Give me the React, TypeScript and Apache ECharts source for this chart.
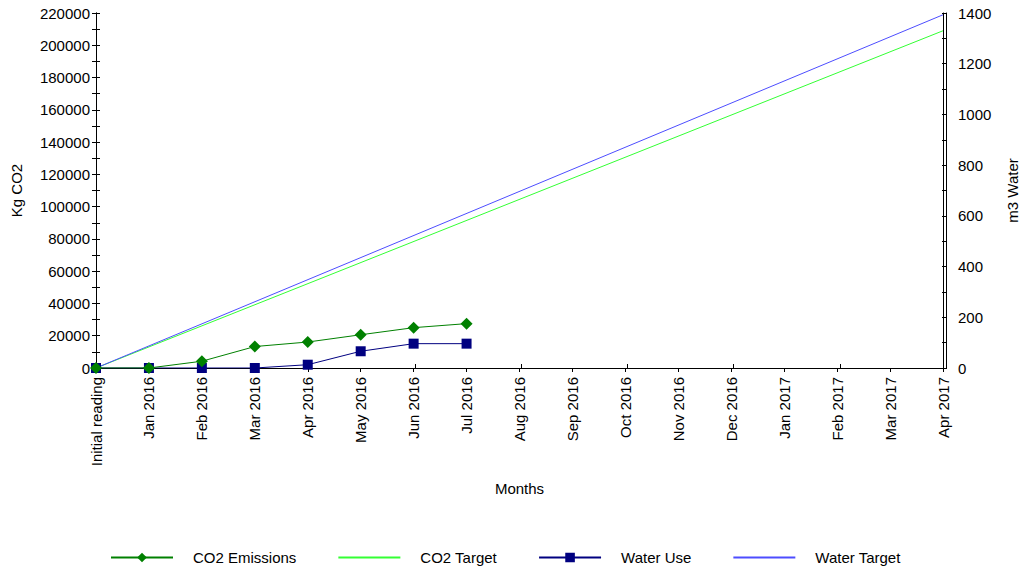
import React, { useEffect, useRef } from "react";
import * as echarts from "echarts";

const categories = [
  "Initial reading", "Jan 2016", "Feb 2016", "Mar 2016", "Apr 2016", "May 2016",
  "Jun 2016", "Jul 2016", "Aug 2016", "Sep 2016", "Oct 2016", "Nov 2016",
  "Dec 2016", "Jan 2017", "Feb 2017", "Mar 2017", "Apr 2017",
];
const co2Emissions = [0, 0, 4200, 13300, 16100, 20600, 25000, 27500];
const waterUse = [0, 0, 0, 0, 13, 66, 96, 96];
const co2Target = [0, null, null, null, null, null, null, null, null, null, null, null, null, null, null, null, 209000];
const waterTarget = [0, null, null, null, null, null, null, null, null, null, null, null, null, null, null, null, 1393];

const FONT = "'Liberation Sans', Arial, sans-serif";
const TXT = { color: "#000", fontFamily: FONT, fontSize: 15 };

export default function App() {
  const ref = useRef<HTMLDivElement>(null);
  useEffect(() => {
    if (!ref.current) return;
    const chart = echarts.init(ref.current, null, { renderer: "svg" });
    const axisLine = { show: true, onZero: false, lineStyle: { color: "#000", width: 1 } };
    const tick = { show: true, length: 4, lineStyle: { color: "#000" } };
    const innerTick = { show: true, inside: true, length: 4, lineStyle: { color: "#000" } };
    const minor = { show: true, splitNumber: 2, length: 4, lineStyle: { color: "#000" } };
    const gridBox = { left: 96, right: 82, top: 13, bottom: 205, containLabel: false };
    chart.setOption({
      animation: false,
      backgroundColor: "#fff",
      textStyle: { fontFamily: FONT },
      grid: [gridBox, { ...gridBox }],
      legend: {
        top: 545, left: 105, itemWidth: 62, itemHeight: 12, itemGap: 41,
        textStyle: { ...TXT, padding: [0, 0, 0, 15] },
        data: [
          { name: "CO2 Emissions" },
          { name: "CO2 Target", itemStyle: { opacity: 0 } },
          { name: "Water Use" },
          { name: "Water Target", itemStyle: { opacity: 0 } },
        ],
      },
      xAxis: [
        {
          type: "category", data: categories, boundaryGap: false, gridIndex: 0,
          axisLine, axisTick: tick,
          axisLabel: { ...TXT, rotate: 90, margin: 9, interval: 0 },
          name: "Months", nameLocation: "middle", nameGap: 113, nameTextStyle: TXT,
        },
        {
          type: "category", data: categories, boundaryGap: false, gridIndex: 1, position: "bottom",
          axisLine, axisTick: innerTick, axisLabel: { show: false },
        },
      ],
      yAxis: [
        {
          type: "value", min: 0, max: 220000, interval: 20000, position: "left", gridIndex: 0,
          axisLine, splitLine: { show: false }, axisTick: tick, minorTick: minor,
          axisLabel: { ...TXT, margin: 6, formatter: (v: number) => String(v) },
          name: "Kg CO2", nameLocation: "middle", nameGap: 72, nameTextStyle: TXT,
        },
        {
          type: "value", min: 0, max: 1400, interval: 200, position: "right", gridIndex: 0,
          axisLine, splitLine: { show: false }, axisTick: tick, minorTick: minor,
          axisLabel: { ...TXT, margin: 15, formatter: (v: number) => String(v) },
          name: "m3 Water", nameLocation: "middle", nameGap: 62, nameTextStyle: TXT,
        },
        {
          type: "value", min: 0, max: 220000, interval: 20000, position: "left", gridIndex: 1,
          axisLine, splitLine: { show: false }, axisTick: innerTick,
          minorTick: minor, axisLabel: { show: false },
        },
        {
          type: "value", min: 0, max: 1400, interval: 200, position: "right", gridIndex: 1,
          axisLine, splitLine: { show: false }, axisTick: innerTick,
          minorTick: minor, axisLabel: { show: false },
        },
      ],
      series: [
        {
          name: "CO2 Emissions", type: "line", data: co2Emissions, xAxisIndex: 0, yAxisIndex: 0, z: 5,
          symbol: "diamond", symbolSize: 12, showAllSymbol: true,
          itemStyle: { color: "#008000" }, lineStyle: { color: "#008000", width: 1 },
        },
        {
          name: "CO2 Target", type: "line", data: co2Target, xAxisIndex: 0, yAxisIndex: 0, connectNulls: true,
          symbol: "none", itemStyle: { color: "#33ff33" }, lineStyle: { color: "#33ff33", width: 1 },
        },
        {
          name: "Water Use", type: "line", data: waterUse, xAxisIndex: 0, yAxisIndex: 1, z: 4,
          symbol: "rect", symbolSize: 10, showAllSymbol: true,
          itemStyle: { color: "#000080" }, lineStyle: { color: "#000080", width: 1 },
        },
        {
          name: "Water Target", type: "line", data: waterTarget, xAxisIndex: 0, yAxisIndex: 1, connectNulls: true,
          symbol: "none", itemStyle: { color: "#4d4dff" }, lineStyle: { color: "#4d4dff", width: 1 },
        },
      ],
    });
    return () => chart.dispose();
  }, []);
  return (
    <div
      ref={ref}
      style={{ position: "absolute", left: 0, top: 0, width: 1028, height: 573 }}
    />
  );
}
